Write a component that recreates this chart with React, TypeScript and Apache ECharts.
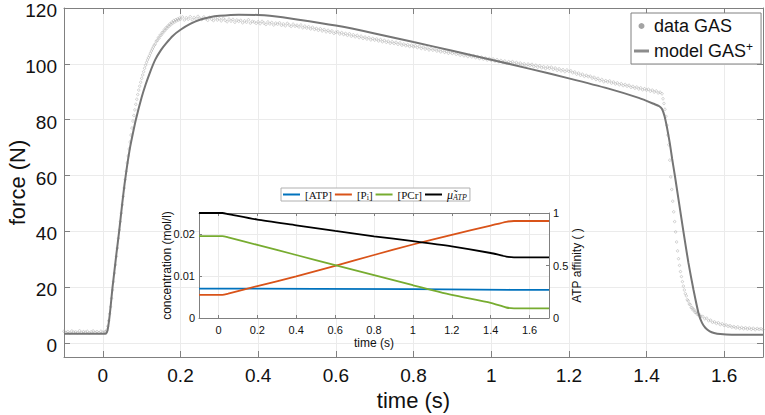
import React, { useEffect, useRef } from "react";
import * as echarts from "echarts";

// ---------- tick labels ----------
const mainXTicks = [0, 0.2, 0.4, 0.6, 0.8, 1, 1.2, 1.4, 1.6];
const mainYTicks = [0, 20, 40, 60, 80, 100, 120];
const insetXTicks = [0, 0.2, 0.4, 0.6, 0.8, 1, 1.2, 1.4, 1.6];
const insetConcTicks = [0, 0.01, 0.02];
const insetAffTicks = [0, 0.5, 1];

// ---------- data GAS (force in N), sampled segments ----------
const baselineStart = -0.1;
const baselineStep = 0.005;
const baselineForce = [4.2, 3.8, 4.1, 3.6, 4.3, 3.9, 4.0, 3.7, 4.4, 3.8, 4.1, 3.9, 4.2, 3.6, 4.0, 4.3, 3.8, 4.1, 3.7, 4.2, 3.9, 4.0];

const riseStart = 0.0075;
const riseStep = 0.0025;
const riseForce = [
  4.0, 4.6, 6.0, 8.0, 10.5, 13.0, 16.0, 19.0, 22.0, 25.0,
  28.0, 31.0, 34.0, 37.5, 40.5, 43.5, 46.5, 49.5, 52.5, 55.5,
  58.5, 61.5, 64.5, 67.0, 69.5, 72.0, 74.5, 77.0, 79.5, 81.5,
  83.5, 85.5, 87.3, 89.0, 90.6, 92.0, 93.4, 94.8, 96.0, 97.2,
  98.4, 99.5, 100.5, 101.4, 102.2, 102.9, 103.8, 104.6, 105.3, 106.0,
  106.7, 107.1, 108.1, 108.3, 109.3, 109.2, 110.3, 110.2, 111.2, 111.1,
  112.1, 111.9, 112.9, 112.7, 113.6, 113.4, 114.3, 114.0, 114.9, 114.6,
  115.5, 115.0, 115.8, 115.4, 116.1, 115.7, 116.4, 116.0,
];

const plateauStart = 0.205;
const plateauStep = 0.005;
const plateauForce = [
  116.8, 115.7, 116.5, 116.0, 116.9, 115.8, 116.6, 116.1, 117.0, 116.3,
  115.9, 116.8, 116.2, 115.6, 116.7, 116.0, 115.5, 116.4, 115.7, 116.2,
  115.4, 116.3, 115.6, 115.1, 116.0, 115.3, 115.9, 114.9, 115.7, 115.2,
  115.6, 114.7, 115.4, 114.9, 115.8, 114.6, 115.2, 115.0, 114.5, 115.1,
  114.4, 115.2, 114.6, 114.1, 115.0, 114.3, 114.8, 113.9, 114.6, 114.2,
  114.7, 113.8, 114.3, 113.6, 114.5, 113.9, 113.4, 114.2, 113.5, 113.8,
  113.2, 113.9, 112.9, 113.5, 112.8, 113.3, 112.5, 113.1, 112.3, 112.7,
  112.0, 112.6, 111.8, 112.3, 111.5, 112.0, 111.3, 111.8, 110.9, 111.3,
  111.5, 110.7, 111.2, 110.5, 110.9, 110.2, 110.8, 109.9, 110.4, 109.7,
  110.2, 109.4, 109.9, 109.1, 109.6, 108.9, 109.4, 108.6, 109.1, 108.5,
  108.9, 108.2, 108.7, 107.9, 108.4, 107.7, 108.1, 107.4, 107.9, 107.3,
  107.7, 107.0, 107.5, 106.7, 107.1, 106.5, 106.9, 106.2, 106.7, 106.1,
  106.5, 105.8, 106.3, 105.5, 106.0, 105.3, 105.7, 105.0, 105.5, 104.9,
  105.3, 104.6, 105.0, 104.3, 104.8, 104.1, 104.5, 103.8, 104.3, 103.7,
  104.1, 103.4, 103.8, 103.1, 103.6, 102.9, 103.3, 102.6, 103.1, 102.5,
  102.9, 102.2, 102.6, 101.9, 102.4, 101.7, 102.1, 101.4, 101.9, 101.3,
  101.7, 101.0, 101.5, 100.8, 101.2, 100.6, 101.0, 100.3, 100.8, 100.4,
  100.8, 100.0, 100.5, 99.8, 100.3, 99.6, 100.0, 99.3, 99.9, 99.4,
  99.8, 99.0, 99.5, 98.8, 99.3, 98.6, 99.0, 98.3, 98.9, 98.4,
  98.8, 98.0, 98.5, 97.7, 98.2, 97.5, 97.9, 97.2, 97.8, 97.3,
  97.5, 96.8, 97.1, 96.3, 96.7, 95.9, 96.3, 95.5, 95.9, 95.4,
  95.6, 94.9, 95.2, 94.4, 94.8, 94.0, 94.4, 93.6, 94.0, 93.5,
  93.9, 93.1, 93.5, 92.8, 93.2, 92.5, 92.9, 92.2, 92.6, 92.0,
  92.3, 91.6, 91.9, 91.3, 91.7, 91.0, 91.4, 90.7, 91.1, 90.6,
  90.9, 90.2, 90.6, 89.9, 90.3, 89.6, 89.8, 89.3,
];

const fallStart = 1.4425;
const fallStep = 0.0025;
const fallForce = [
  87.5, 85.8, 83.7, 81.2, 78.0, 74.5, 71.0, 65.5, 59.5, 55.0,
  50.8, 47.0, 43.5, 39.8, 36.2, 33.0, 30.2, 27.8, 25.6, 23.8,
  22.0, 20.4, 19.0, 17.7, 16.9, 15.5, 15.1, 14.0, 13.8, 12.7,
  12.7, 11.8, 11.9, 11.0, 11.1, 10.4, 10.5, 9.8, 10.0, 9.5,
];

const tailStart = 1.545;
const tailStep = 0.005;
const tailForce = [
  9.5, 8.7, 8.9, 8.0, 8.2, 7.4, 7.6, 7.0, 7.3, 6.6,
  6.9, 6.3, 6.5, 6.0, 6.2, 5.7, 5.9, 5.4, 5.8, 5.2,
  5.6, 5.1, 5.5, 5.0, 5.4, 4.9, 5.3, 4.8, 5.2, 4.9,
  5.1, 4.8,
];

// ---------- model GAS+ ----------
const modelTime = [
  -0.1, 0.0, 0.008, 0.012, 0.016, 0.02, 0.025, 0.03, 0.035, 0.042,
  0.05, 0.056, 0.062, 0.07, 0.078, 0.085, 0.1, 0.11, 0.121, 0.135,
  0.15, 0.164, 0.18, 0.2, 0.225, 0.25, 0.275, 0.3, 0.35, 0.4,
  0.43, 0.5, 0.6, 0.7, 0.8, 0.9, 1.0, 1.1, 1.2, 1.3,
  1.38, 1.42, 1.433, 1.44, 1.4465, 1.453, 1.46, 1.466, 1.473, 1.484,
  1.495, 1.508, 1.521, 1.534, 1.543, 1.552, 1.563, 1.574, 1.59, 1.62, 1.7,
];
const modelForce = [
  3.3, 3.3, 3.4, 4.5, 8.0, 13.0, 20.0, 26.0, 32.0, 40.0,
  50.0, 57.0, 63.0, 70.0, 75.5, 80.0, 88.0, 92.5, 96.8, 101.5,
  105.0, 107.5, 110.0, 112.2, 114.3, 115.8, 116.7, 117.2, 117.6, 117.5,
  117.2, 115.9, 113.7, 110.9, 107.8, 104.7, 101.5, 98.2, 94.8, 91.2,
  87.8, 85.6, 84.8, 83.8, 81.2, 77.0, 71.6, 66.0, 60.0, 50.0,
  40.0, 28.7, 19.1, 10.7, 7.2, 5.4, 4.2, 3.6, 3.2, 3.0, 3.0,
];

// ---------- inset: concentrations (mol/l) and ATP affinity ----------
const atpTime = [-0.1, 0.02, 0.5, 1.0, 1.5, 1.7];
const atpConc = [0.0070, 0.0070, 0.00695, 0.00688, 0.00672, 0.00672];

const piTime = [-0.1, 0.02, 0.05, 0.2, 0.4, 0.6, 0.8, 1.0, 1.2, 1.4, 1.48, 1.52, 1.7];
const piConc = [0.0055, 0.0055, 0.0058, 0.0076, 0.0099, 0.0124, 0.0150, 0.0175, 0.0198, 0.0220, 0.0229, 0.0231, 0.0231];

const pcrTime = [-0.1, 0.02, 0.05, 0.2, 0.4, 0.6, 0.8, 1.0, 1.2, 1.4, 1.48, 1.52, 1.7];
const pcrConc = [0.0195, 0.0195, 0.0192, 0.0174, 0.0150, 0.0126, 0.0102, 0.0078, 0.0055, 0.0036, 0.0025, 0.0023, 0.0023];

const muTime = [-0.1, 0.02, 0.05, 0.2, 0.4, 0.6, 0.8, 1.0, 1.2, 1.4, 1.48, 1.52, 1.7];
const muAffinity = [1.0, 1.0, 0.99, 0.937, 0.883, 0.829, 0.778, 0.733, 0.683, 0.619, 0.585, 0.578, 0.578];

// ---------- styling ----------
const FONT = "'Liberation Sans', Arial, Helvetica, sans-serif";
const SERIF = "'Liberation Serif', 'Times New Roman', serif";
const AXIS = "#808080";
const GRIDLINE = "#ebebeb";
const TEXT = "#111111";
const LINE_ICON_MAIN = "path://M0,0H50V10H0Z";
const LINE_ICON_INSET = "path://M0,0H85V10H0Z";

function samples(start: number, step: number, values: number[]) {
  return values.map((v, i) => [Number((start + i * step).toFixed(5)), v]);
}
function pairs(xs: number[], ys: number[]) {
  return xs.map((x, i) => [x, ys[i]]);
}

function axisBase(extra: any) {
  return {
    type: "value",
    nameMoveOverlap: false,
    axisLine: { show: true, onZero: false, lineStyle: { color: AXIS, width: 1 } },
    ...extra,
  };
}

export default function App() {
  const ref = useRef<HTMLDivElement>(null);

  useEffect(() => {
    document.body.style.margin = "0";
    if (!ref.current) return;
    const chart = echarts.init(ref.current, undefined, { renderer: "svg" });

    const dataPoints = [
      ...samples(baselineStart, baselineStep, baselineForce),
      ...samples(riseStart, riseStep, riseForce),
      ...samples(plateauStart, plateauStep, plateauForce),
      ...samples(fallStart, fallStep, fallForce),
      ...samples(tailStart, tailStep, tailForce),
    ];

    const mainTick = (vals: number[]) => ({
      show: true,
      inside: true,
      length: 6,
      customValues: vals,
      lineStyle: { color: AXIS },
    });
    const insetTick = (vals: number[]) => ({
      show: true,
      inside: true,
      length: 3,
      customValues: vals,
      lineStyle: { color: AXIS },
    });

    const option: any = {
      animation: false,
      backgroundColor: "#ffffff",
      textStyle: { fontFamily: FONT },
      grid: [
        { left: 64, top: 8, right: 2, bottom: 58, outerBoundsMode: "none", containLabel: false },
        {
          left: 199, top: 213, width: 350, height: 105,
          outerBoundsMode: "none", containLabel: false,
          show: true, backgroundColor: "#ffffff", borderWidth: 0, z: 2,
        },
      ],
      xAxis: [
        axisBase({
          gridIndex: 0, min: -0.1, max: 1.7, position: "bottom",
          axisTick: mainTick(mainXTicks),
          axisLabel: { customValues: mainXTicks, fontSize: 19, color: TEXT, margin: 9, fontFamily: FONT },
          splitLine: { show: true, lineStyle: { color: GRIDLINE, width: 1 } },
          name: "time (s)", nameLocation: "middle", nameGap: 32,
          nameTextStyle: { fontSize: 22, color: TEXT, fontFamily: FONT },
        }),
        axisBase({
          gridIndex: 0, min: -0.1, max: 1.7, position: "top",
          axisTick: mainTick(mainXTicks),
          axisLabel: { show: false },
          splitLine: { show: false },
        }),
        axisBase({
          gridIndex: 1, min: -0.1, max: 1.7, position: "bottom", z: 3,
          axisTick: insetTick(insetXTicks),
          axisLabel: { customValues: insetXTicks, fontSize: 11, color: TEXT, margin: 6, fontFamily: FONT },
          splitLine: { show: true, lineStyle: { color: GRIDLINE, width: 1 } },
          name: "time (s)", nameLocation: "middle", nameGap: 19,
          nameTextStyle: { fontSize: 12, color: TEXT, fontFamily: FONT },
        }),
        axisBase({
          gridIndex: 1, min: -0.1, max: 1.7, position: "top", z: 3,
          axisTick: insetTick(insetXTicks),
          axisLabel: { show: false },
          splitLine: { show: false },
        }),
      ],
      yAxis: [
        axisBase({
          gridIndex: 0, min: -5, max: 120, position: "left",
          axisTick: mainTick(mainYTicks),
          axisLabel: {
            customValues: mainYTicks, color: TEXT, margin: 7, fontFamily: FONT,
            formatter: (v: number) => "{t|" + v + "}",
            rich: { t: { fontSize: 19, lineHeight: 19, padding: [5, 0, 0, 0], color: TEXT, fontFamily: FONT } },
          },
          splitLine: { show: true, lineStyle: { color: GRIDLINE, width: 1 } },
          name: "force (N)", nameLocation: "middle", nameGap: 36, nameRotate: 90,
          nameTextStyle: { fontSize: 22, color: TEXT, fontFamily: FONT },
        }),
        axisBase({
          gridIndex: 0, min: -5, max: 120, position: "right",
          axisTick: mainTick(mainYTicks),
          axisLabel: { show: false },
          splitLine: { show: false },
        }),
        axisBase({
          gridIndex: 1, min: 0, max: 0.025, position: "left", z: 3,
          axisTick: insetTick(insetConcTicks),
          axisLabel: { customValues: insetConcTicks, fontSize: 11, color: TEXT, margin: 4, fontFamily: FONT },
          splitLine: { show: true, lineStyle: { color: GRIDLINE, width: 1 } },
          name: "concentration (mol/l)", nameLocation: "middle", nameGap: 26, nameRotate: 90,
          nameTextStyle: { fontSize: 12, color: TEXT, fontFamily: FONT },
        }),
        axisBase({
          gridIndex: 1, min: 0, max: 1, position: "right", z: 3,
          axisTick: insetTick(insetAffTicks),
          axisLabel: { customValues: insetAffTicks, fontSize: 11, color: TEXT, margin: 4, fontFamily: FONT },
          splitLine: { show: false },
          name: "ATP affinity ( )", nameLocation: "middle", nameGap: 22, nameRotate: 90,
          nameTextStyle: { fontSize: 12, color: TEXT, fontFamily: FONT },
        }),
      ],
      legend: [
        {
          data: [
            { name: "data GAS", icon: "circle", itemStyle: { color: "#8c8c8c", borderWidth: 0 } },
            { name: "model GAS+", icon: LINE_ICON_MAIN, itemStyle: { color: "#8c8c8c", borderWidth: 0 } },
          ],
          orient: "vertical",
          left: 631,
          top: 13,
          padding: [3, 8, 3, 3],
          itemGap: 5,
          itemWidth: 15,
          itemHeight: 6,
          selectedMode: false,
          backgroundColor: "#ffffff",
          borderColor: AXIS,
          borderWidth: 1,
          borderRadius: 0,
          formatter: (name: string) => (name === "model GAS+" ? "model GAS{sup|+}" : name),
          textStyle: {
            fontSize: 18, lineHeight: 20, color: TEXT, fontFamily: FONT,
            rich: { sup: { fontSize: 12, lineHeight: 12, verticalAlign: "top", color: TEXT, fontFamily: FONT } },
          },
        },
        {
          data: [
            { name: "[ATP]", icon: LINE_ICON_INSET, itemStyle: { color: "#0072BD", borderWidth: 0 } },
            { name: "[P_i]", icon: LINE_ICON_INSET, itemStyle: { color: "#D95319", borderWidth: 0 } },
            { name: "[PCr]", icon: LINE_ICON_INSET, itemStyle: { color: "#77AC30", borderWidth: 0 } },
            { name: "mu_ATP", icon: LINE_ICON_INSET, itemStyle: { color: "#000000", borderWidth: 0 } },
          ],
          orient: "horizontal",
          left: 281,
          top: 188,
          padding: [0, 3, 0, 2],
          itemGap: 3,
          itemWidth: 17,
          itemHeight: 8,
          selectedMode: false,
          backgroundColor: "#ffffff",
          borderColor: "#b0b0b0",
          borderWidth: 1,
          borderRadius: 0,
          formatter: (name: string) => {
            if (name === "[P_i]") return "[P{sub|i}]";
            if (name === "mu_ATP") return "{mu|\u03BC\u0303}{subi|ATP}";
            return name;
          },
          textStyle: {
            fontSize: 11, lineHeight: 13, color: TEXT, fontFamily: SERIF,
            rich: {
              sub: { fontSize: 8, lineHeight: 8, verticalAlign: "bottom", color: TEXT, fontFamily: SERIF },
              mu: { fontSize: 12, lineHeight: 13, fontStyle: "italic", color: TEXT, fontFamily: SERIF },
              subi: { fontSize: 8, lineHeight: 8, verticalAlign: "bottom", fontStyle: "italic", color: TEXT, fontFamily: SERIF },
            },
          },
        },
      ],
      series: [
        {
          name: "data GAS",
          type: "scatter",
          xAxisIndex: 0,
          yAxisIndex: 0,
          data: dataPoints,
          symbol: "circle",
          symbolSize: 2.4,
          itemStyle: { color: "rgba(0,0,0,0)", borderColor: "#a3a3a3", borderWidth: 0.6 },
          z: 2,
          silent: true,
        },
        {
          name: "model GAS+",
          type: "line",
          xAxisIndex: 0,
          yAxisIndex: 0,
          data: pairs(modelTime, modelForce),
          showSymbol: false,
          symbol: "none",
          smooth: 0.2,
          lineStyle: { color: "#757575", width: 2 },
          itemStyle: { color: "#8c8c8c" },
          z: 3,
          silent: true,
        },
        {
          name: "[ATP]",
          type: "line",
          xAxisIndex: 2,
          yAxisIndex: 2,
          data: pairs(atpTime, atpConc),
          showSymbol: false,
          symbol: "none",
          lineStyle: { color: "#0072BD", width: 1.8 },
          itemStyle: { color: "#0072BD" },
          z: 4,
        },
        {
          name: "[P_i]",
          type: "line",
          xAxisIndex: 2,
          yAxisIndex: 2,
          data: pairs(piTime, piConc),
          showSymbol: false,
          symbol: "none",
          smooth: 0.2,
          lineStyle: { color: "#D95319", width: 1.8 },
          itemStyle: { color: "#D95319" },
          z: 4,
        },
        {
          name: "[PCr]",
          type: "line",
          xAxisIndex: 2,
          yAxisIndex: 2,
          data: pairs(pcrTime, pcrConc),
          showSymbol: false,
          symbol: "none",
          smooth: 0.2,
          lineStyle: { color: "#77AC30", width: 1.8 },
          itemStyle: { color: "#77AC30" },
          z: 4,
        },
        {
          name: "mu_ATP",
          type: "line",
          xAxisIndex: 2,
          yAxisIndex: 3,
          data: pairs(muTime, muAffinity),
          showSymbol: false,
          symbol: "none",
          smooth: 0.2,
          lineStyle: { color: "#000000", width: 1.8 },
          itemStyle: { color: "#000000" },
          z: 4,
        },
      ],
    };

    chart.setOption(option);
    return () => chart.dispose();
  }, []);

  return <div ref={ref} style={{ width: 765, height: 415 }} />;
}
